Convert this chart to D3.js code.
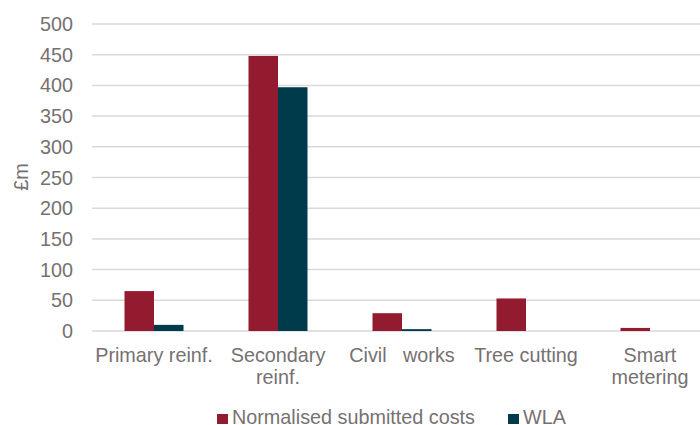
<!DOCTYPE html>
<html>
<head>
<meta charset="utf-8">
<script src="https://cdn.jsdelivr.net/npm/d3@7"></script>
<style>
  body { margin: 0; background: #fff; }
  text { font-family: "Liberation Sans", Arial, sans-serif; fill: #767171; }
</style>
</head>
<body>
<svg id="chart" width="700" height="425"></svg>
<script>
// data
var categories = ['Primary reinf.', 'Secondary reinf.', 'Civil works', 'Tree cutting', 'Smart metering'];
var categoryLines = [['Primary reinf.'], ['Secondary', 'reinf.'], ['Civil   works'], ['Tree cutting'], ['Smart', 'metering']];
var seriesNames = ['Normalised submitted costs', 'WLA'];
var submitted = [65, 448, 29, 53, 5];
var wla = [10, 397, 3, 0, 0];
var yTicks = [0, 50, 100, 150, 200, 250, 300, 350, 400, 450, 500];
var colors = ['#931b2f', '#003b4b'];

(function() {
var svg = d3.select('#chart');

// layout
var plotLeft = 92, plotRight = 712, plotTop = 24, plotBottom = 331;
var fontSize = '19.8px';

var x = d3.scaleBand().domain(categories).range([plotLeft, plotRight]);
var y = d3.scaleLinear().domain([0, 500]).range([plotBottom, plotTop]);
var barW = 29.5;

// gridlines
svg.append('g')
  .selectAll('line')
  .data(yTicks)
  .enter()
  .append('line')
  .attr('x1', plotLeft)
  .attr('x2', 700)
  .attr('y1', function(d) { return y(d); })
  .attr('y2', function(d) { return y(d); })
  .style('stroke', '#d9d9d9')
  .style('stroke-width', 1.5);

// y axis labels
svg.append('g')
  .selectAll('text')
  .data(yTicks)
  .enter()
  .append('text')
  .attr('x', 73)
  .attr('y', function(d) { return y(d) + 7; })
  .attr('text-anchor', 'end')
  .style('font-size', fontSize)
  .text(function(d) { return d; });

// y axis title
svg.append('text')
  .attr('transform', 'translate(28,177) rotate(-90)')
  .attr('text-anchor', 'middle')
  .style('font-size', fontSize)
  .text('£m');

// bars
var series = [submitted, wla];
series.forEach(function(values, s) {
  svg.append('g')
    .selectAll('rect')
    .data(values)
    .enter()
    .append('rect')
    .attr('x', function(d, i) { return x(categories[i]) + x.bandwidth() / 2 - barW + s * barW; })
    .attr('width', barW)
    .attr('y', function(d) { return y(d); })
    .attr('height', function(d) { return y(0) - y(d); })
    .style('fill', colors[s]);
});

// category labels
var catLabels = svg.append('g')
  .selectAll('text')
  .data(categoryLines)
  .enter()
  .append('text')
  .attr('text-anchor', 'middle')
  .attr('xml:space', 'preserve')
  .style('white-space', 'pre')
  .style('font-size', fontSize);
catLabels.each(function(lines, i) {
  var t = d3.select(this);
  lines.forEach(function(line, j) {
    t.append('tspan')
      .attr('x', x(categories[i]) + x.bandwidth() / 2)
      .attr('y', 362 + j * 21.5)
      .text(line);
  });
});

// legend
var legendX = [217, 508];
seriesNames.forEach(function(name, s) {
  svg.append('rect')
    .attr('x', legendX[s])
    .attr('y', 414)
    .attr('width', 11)
    .attr('height', 10)
    .style('fill', colors[s]);
  svg.append('text')
    .attr('x', legendX[s] + 15)
    .attr('y', 424)
    .style('font-size', fontSize)
    .text(name);
});
})();
</script>
</body>
</html>
